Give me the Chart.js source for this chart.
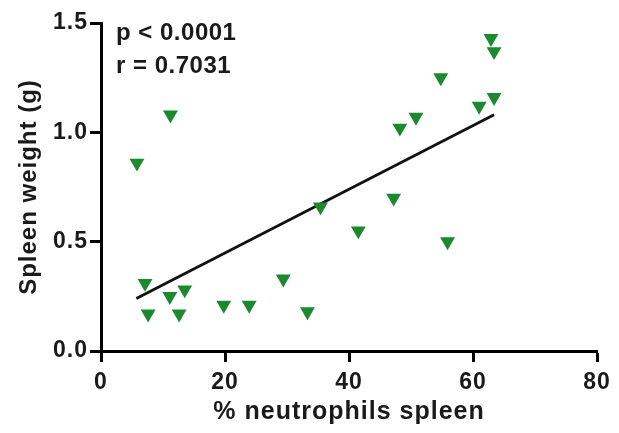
<!DOCTYPE html>
<html>
<head>
<meta charset="utf-8">
<script src="https://cdn.jsdelivr.net/npm/chart.js@4.4.1/dist/chart.umd.min.js"></script>
<style>
html,body{margin:0;padding:0;background:#fff;}
#wrap{width:619px;height:433px;}
</style>
</head>
<body>
<div id="wrap"><canvas id="c" width="619" height="433"></canvas></div>
<script>
const neutrophilsPct = [5.8, 11.2, 7.1, 7.6, 11.1, 13.5, 12.6, 19.8, 23.9, 29.4, 33.3, 35.4, 41.5, 47.2, 55.9, 62.9, 63.4, 54.8, 50.8, 48.2, 61.0, 63.4];
const spleenWeight  = [0.86, 1.08, 0.31, 0.17, 0.25, 0.28, 0.17, 0.21, 0.21, 0.33, 0.18, 0.66, 0.55, 0.70, 0.50, 1.43, 1.37, 1.25, 1.07, 1.02, 1.12, 1.16];
const fitX = [5.7, 63.4];
const fitY = [0.24, 1.08];
const xTicks = [0, 20, 40, 60, 80];
const yTicks = [0, 0.5, 1.0, 1.5];
const statsText = ['p < 0.0001', 'r = 0.7031'];

const pts = neutrophilsPct.map((x, i) => ({x: x, y: spleenWeight[i]}));
const fit = fitX.map((x, i) => ({x: x, y: fitY[i]}));

const FONT = "'Liberation Sans', Arial, Helvetica, sans-serif";

const spacingPlugin = {
  id: 'spacing',
  beforeUpdate(chart) { chart.ctx.letterSpacing = '1px'; },
  beforeDraw(chart) { chart.ctx.letterSpacing = '1px'; }
};

const statsPlugin = {
  id: 'stats',
  afterDraw(chart) {
    const ctx = chart.ctx;
    ctx.save();
    ctx.letterSpacing = '0.5px';
    ctx.fillStyle = '#1a1a1a';
    ctx.font = "bold 24px " + FONT;
    ctx.textBaseline = 'alphabetic';
    ctx.textAlign = 'left';
    ctx.fillText(statsText[0], 116, 40);
    ctx.fillText(statsText[1], 116, 73);
    ctx.restore();
  }
};

new Chart(document.getElementById('c'), {
  type: 'scatter',
  data: {
    datasets: [
      {
        type: 'line',
        data: fit,
        borderColor: '#111',
        borderWidth: 2.8,
        pointRadius: 0,
        fill: false,
        order: 1
      },
      {
        data: pts,
        pointStyle: 'triangle',
        rotation: 180,
        radius: 8.6,
        backgroundColor: '#1b8a2f',
        borderColor: '#1b8a2f',
        borderWidth: 0,
        order: 0
      }
    ]
  },
  options: {
    responsive: false,
    animation: false,
    devicePixelRatio: 1,
    layout: {padding: {left: 0, right: 22, top: 23, bottom: 0}},
    plugins: {legend: {display: false}, tooltip: {enabled: false}},
    scales: {
      x: {
        type: 'linear',
        min: 0, max: 80,
        afterBuildTicks: s => { s.ticks = xTicks.map(v => ({value: v})); },
        afterFit: s => { s.height = 82; },
        border: {display: true, color: '#000', width: 3},
        grid: {display: true, drawOnChartArea: false, drawTicks: true, tickLength: 11, tickWidth: 3, tickColor: '#000'},
        ticks: {color: '#1a1a1a', padding: 7, font: {family: FONT, size: 23, weight: 'bold'}, callback: v => String(v), maxRotation: 0},
        title: {display: true, text: '% neutrophils spleen', color: '#1a1a1a', font: {family: FONT, size: 25, weight: 'bold'}, padding: {top: 0, bottom: 6}}
      },
      y: {
        type: 'linear',
        min: 0, max: 1.5,
        afterBuildTicks: s => { s.ticks = yTicks.map(v => ({value: v})); },
        afterFit: s => { s.width = 101; },
        border: {display: true, color: '#000', width: 3},
        grid: {display: true, drawOnChartArea: false, drawTicks: true, tickLength: 11, tickWidth: 3, tickColor: '#000'},
        ticks: {color: '#1a1a1a', padding: 2, font: {family: FONT, size: 23, weight: 'bold'}, callback: v => v.toFixed(1)},
        title: {display: true, text: 'Spleen weight (g)', color: '#1a1a1a', font: {family: FONT, size: 24, weight: 'bold'}, padding: {top: 15, bottom: 0}}
      }
    }
  },
  plugins: [spacingPlugin, statsPlugin]
});
</script>
</body>
</html>
